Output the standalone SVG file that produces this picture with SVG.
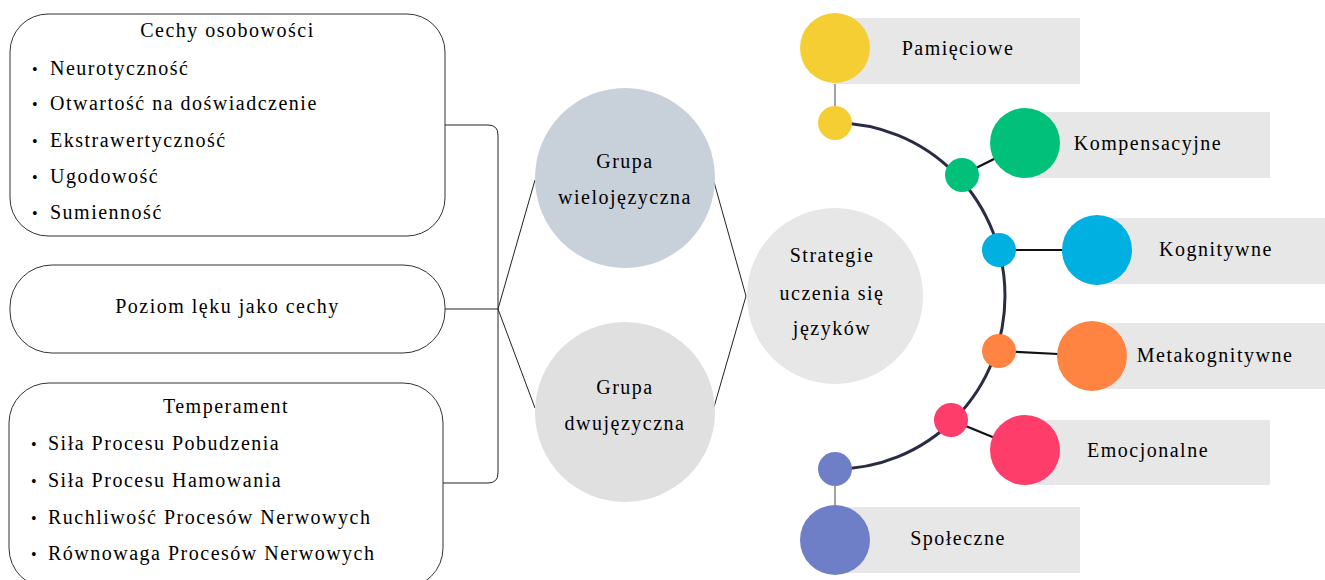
<svg xmlns="http://www.w3.org/2000/svg" width="1325" height="580" viewBox="0 0 1325 580">
<g id="connectors" fill="none">
<path stroke="#222" stroke-width="1" d="M445 125 H488 Q498 125 498 135 V473 Q498 483 488 483 H443"/>
<path stroke="#222" stroke-width="1" d="M445 309 H498"/>
<path stroke="#222" stroke-width="1" d="M535 180 L498 309 L535 408"/>
<path stroke="#222" stroke-width="1" d="M714 182 L746 296 L714 407"/>
<path d="M835 123 A170 173 0 0 1 835 469" stroke="#2A2B45" stroke-width="3"/>
<line stroke="#666" stroke-width="1.2" x1="835" y1="84" x2="835" y2="106"/>
<line stroke="#111" stroke-width="2.2" x1="962" y1="175" x2="1000" y2="156"/>
<line stroke="#111" stroke-width="2.2" x1="999" y1="250" x2="1062" y2="250"/>
<line stroke="#111" stroke-width="2.2" x1="999" y1="351" x2="1058" y2="354"/>
<line stroke="#111" stroke-width="2.2" x1="951" y1="420" x2="995" y2="438"/>
<line stroke="#666" stroke-width="1.2" x1="835" y1="486" x2="835" y2="506"/>
</g>
<g id="box-cechy">
<rect fill="#fff" stroke="#333" x="10" y="14" width="435" height="222" rx="38"/>
<text font-family="Liberation Serif" font-size="20" letter-spacing="1.5" text-anchor="middle" x="227.5" y="37">Cechy osobowości</text>
<text font-family="Liberation Serif" font-size="20" letter-spacing="1.5" x="32" y="75"><tspan font-size="16">•</tspan><tspan x="50">Neurotyczność</tspan></text>
<text font-family="Liberation Serif" font-size="20" letter-spacing="1.5" x="32" y="110"><tspan font-size="16">•</tspan><tspan x="50">Otwartość na doświadczenie</tspan></text>
<text font-family="Liberation Serif" font-size="20" letter-spacing="1.5" x="32" y="147"><tspan font-size="16">•</tspan><tspan x="50">Ekstrawertyczność</tspan></text>
<text font-family="Liberation Serif" font-size="20" letter-spacing="1.5" x="32" y="183"><tspan font-size="16">•</tspan><tspan x="50">Ugodowość</tspan></text>
<text font-family="Liberation Serif" font-size="20" letter-spacing="1.5" x="32" y="219"><tspan font-size="16">•</tspan><tspan x="50">Sumienność</tspan></text>
</g>
<g id="box-lek">
<rect fill="#fff" stroke="#333" x="10" y="265" width="435" height="88" rx="42"/>
<text font-family="Liberation Serif" font-size="20" letter-spacing="1.5" text-anchor="middle" x="227.5" y="313">Poziom lęku jako cechy</text>
</g>
<g id="box-temperament">
<rect fill="#fff" stroke="#333" x="9" y="383" width="434" height="205" rx="40"/>
<text font-family="Liberation Serif" font-size="20" letter-spacing="1.5" text-anchor="middle" x="226" y="413">Temperament</text>
<text font-family="Liberation Serif" font-size="20" letter-spacing="1.5" x="31" y="450"><tspan font-size="16">•</tspan><tspan x="48">Siła Procesu Pobudzenia</tspan></text>
<text font-family="Liberation Serif" font-size="20" letter-spacing="1.5" x="31" y="487"><tspan font-size="16">•</tspan><tspan x="48">Siła Procesu Hamowania</tspan></text>
<text font-family="Liberation Serif" font-size="20" letter-spacing="1.5" x="31" y="524"><tspan font-size="16">•</tspan><tspan x="48">Ruchliwość Procesów Nerwowych</tspan></text>
<text font-family="Liberation Serif" font-size="20" letter-spacing="1.5" x="31" y="560"><tspan font-size="16">•</tspan><tspan x="48">Równowaga Procesów Nerwowych</tspan></text>
</g>
<g id="grupa-wielo">
<circle cx="625" cy="178" r="90" fill="#C8D0D9"/>
<text font-family="Liberation Serif" font-size="20" letter-spacing="1.5" text-anchor="middle" x="625" y="168">Grupa</text>
<text font-family="Liberation Serif" font-size="20" letter-spacing="1.5" text-anchor="middle" x="625" y="204">wielojęzyczna</text>
</g>
<g id="grupa-dwu">
<circle cx="625" cy="412" r="90" fill="#E0E0E0"/>
<text font-family="Liberation Serif" font-size="20" letter-spacing="1.5" text-anchor="middle" x="625" y="394">Grupa</text>
<text font-family="Liberation Serif" font-size="20" letter-spacing="1.5" text-anchor="middle" x="625" y="430">dwujęzyczna</text>
</g>
<g id="strategie">
<circle cx="835" cy="296" r="88" fill="#E7E7E7"/>
<text font-family="Liberation Serif" font-size="20" letter-spacing="1.5" text-anchor="middle" x="832" y="262">Strategie</text>
<text font-family="Liberation Serif" font-size="20" letter-spacing="1.5" text-anchor="middle" x="832" y="300">uczenia się</text>
<text font-family="Liberation Serif" font-size="20" letter-spacing="1.5" text-anchor="middle" x="832" y="335">języków</text>
</g>
<g id="pamieciowe">
<rect fill="#E7E7E7" x="835" y="18" width="245" height="66"/>
<circle cx="835" cy="48" r="35" fill="#F4CE33"/>
<circle cx="835" cy="123" r="17" fill="#F4CE33"/>
<text font-family="Liberation Serif" font-size="20" letter-spacing="1.5" text-anchor="middle" x="958" y="55">Pamięciowe</text>
</g>
<g id="kompensacyjne">
<rect fill="#E7E7E7" x="1025" y="112" width="245" height="66"/>
<circle cx="1025" cy="143" r="35" fill="#00C07A"/>
<circle cx="962" cy="175" r="17" fill="#00C07A"/>
<text font-family="Liberation Serif" font-size="20" letter-spacing="1.5" text-anchor="middle" x="1148" y="150">Kompensacyjne</text>
</g>
<g id="kognitywne">
<rect fill="#E7E7E7" x="1097" y="218" width="245" height="66"/>
<circle cx="1097" cy="250" r="35" fill="#00B0E0"/>
<circle cx="999" cy="250" r="17" fill="#00B0E0"/>
<text font-family="Liberation Serif" font-size="20" letter-spacing="1.5" text-anchor="middle" x="1216" y="256">Kognitywne</text>
</g>
<g id="metakognitywne">
<rect fill="#E7E7E7" x="1092" y="323" width="245" height="66"/>
<circle cx="1092" cy="356" r="35" fill="#FF8442"/>
<circle cx="999" cy="351" r="17" fill="#FF8442"/>
<text font-family="Liberation Serif" font-size="20" letter-spacing="1.5" text-anchor="middle" x="1215" y="362">Metakognitywne</text>
</g>
<g id="emocjonalne">
<rect fill="#E7E7E7" x="1025" y="420" width="245" height="65"/>
<circle cx="1025" cy="450" r="35" fill="#FF3D6B"/>
<circle cx="951" cy="420" r="17" fill="#FF3D6B"/>
<text font-family="Liberation Serif" font-size="20" letter-spacing="1.5" text-anchor="middle" x="1148" y="457">Emocjonalne</text>
</g>
<g id="spoleczne">
<rect fill="#E7E7E7" x="835" y="507" width="245" height="66"/>
<circle cx="835" cy="540" r="35" fill="#6F7FC7"/>
<circle cx="835" cy="469" r="17" fill="#6F7FC7"/>
<text font-family="Liberation Serif" font-size="20" letter-spacing="1.5" text-anchor="middle" x="958" y="545">Społeczne</text>
</g>
</svg>
